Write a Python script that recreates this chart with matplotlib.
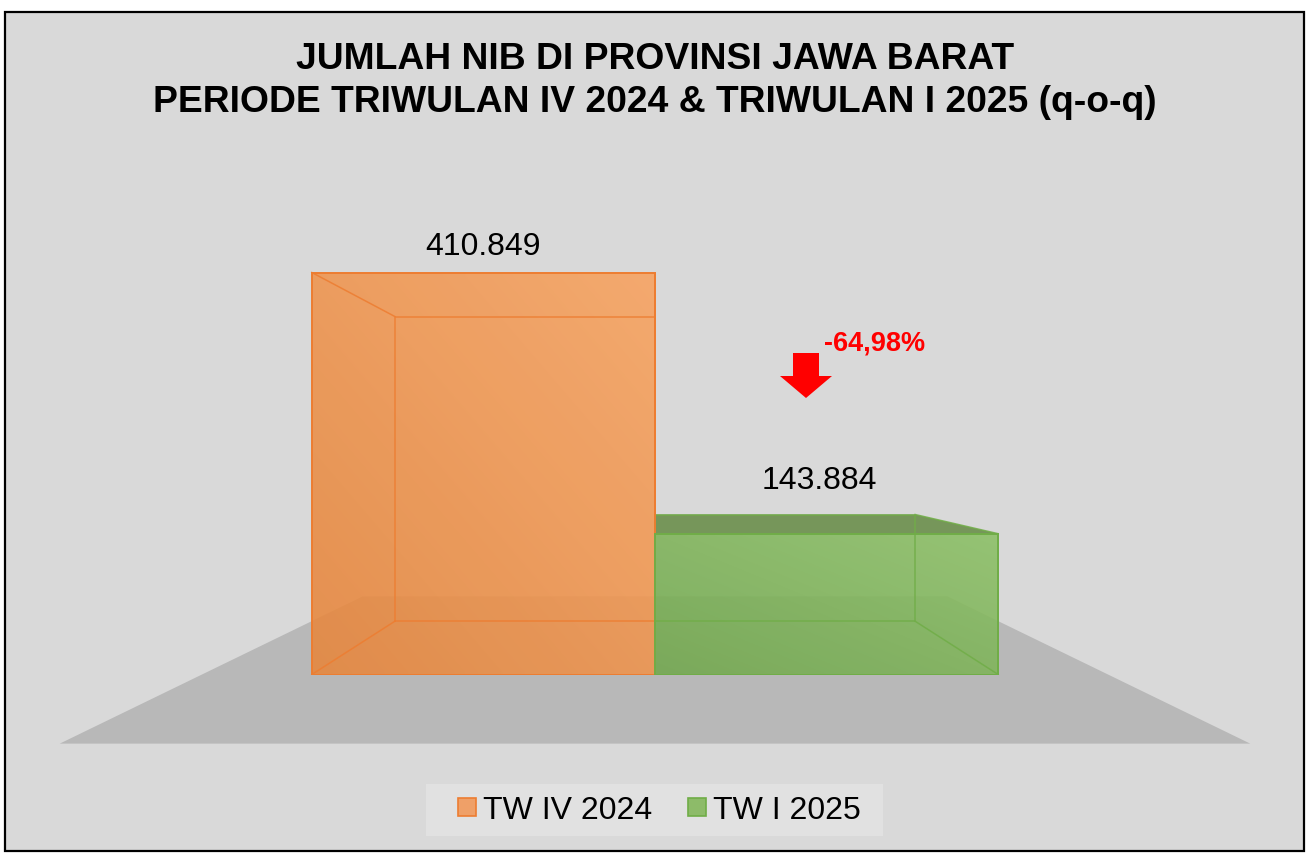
import numpy as np
import matplotlib
matplotlib.use("Agg")
import matplotlib.pyplot as plt
from matplotlib.patches import Rectangle, Polygon
from matplotlib.lines import Line2D

plt.rcParams['font.family'] = ['Liberation Sans', 'DejaVu Sans']

# data
categories = ['TW IV 2024', 'TW I 2025']
values = [410849, 143884]
value_labels = ['410.849', '143.884']
change_label = '-64,98%'
title_lines = ['JUMLAH NIB DI PROVINSI JAWA BARAT',
               'PERIODE TRIWULAN IV 2024 & TRIWULAN I 2025 (q-o-q)']

# styles
edge_cols = ['#ed7d31', '#70ad47']
face_lo = [(230, 134, 60), (114, 168, 78)]     # bottom-left of gradient
face_hi = [(248, 163, 96), (140, 192, 102)]    # top-right of gradient
legend_face = ['#efa068', '#8dbb69']
top_face_green = '#76965a'
BG = '#d9d9d9'
FLOOR = '#b8b8b8'
BACK = 0.758          # depth scale of the back face
FLOOR_DEPTH = (0.645, 1.314)

W, H = 1307, 854
fig = plt.figure(figsize=(W / 100, H / 100), dpi=100)
fig.patch.set_facecolor('white')


def fx(px):
    return px / W


def fy(py):
    return 1 - py / H


fig.patches.append(Rectangle((fx(5), fy(852)), fx(1304) - fx(5), fy(13) - fy(852),
                             transform=fig.transFigure, fc=BG, ec='black', lw=1.6,
                             zorder=-2))

ax = fig.add_axes([fx(202), fy(675.5), fx(1108) - fx(202), fy(235.2) - fy(675.5)])
ax.set_zorder(1)
ax.set_xlim(-0.82, 1.82)
ax.set_ylim(0, 450000)
ax.axis('off')

# vanishing point at the centre of the axes
vx, vv = ax.transData.inverted().transform(ax.transAxes.transform((0.5, 0.5)))


def proj(x, v, s):
    return (vx + s * (x - vx), vv + s * (v - vv))


# floor
x_lo, x_hi = ax.get_xlim()
s_b, s_f = FLOOR_DEPTH
floor = [proj(x_lo, 0, s_f), proj(x_hi, 0, s_f), proj(x_hi, 0, s_b), proj(x_lo, 0, s_b)]
ax.add_patch(Polygon(floor, closed=True, fc=FLOOR, ec='none', zorder=1, clip_on=False))

for i, v in enumerate(values):
    x0, x1 = i - 0.5, i + 0.5
    front = [(x0, 0), (x1, 0), (x1, v), (x0, v)]
    back = [proj(px, py, BACK) for px, py in front]

    # top face (only visible for the lower bar)
    if i == 1:
        ax.add_patch(Polygon([back[3], back[2], front[2], front[3]], closed=True,
                             fc=top_face_green, ec='none', zorder=2))

    # gradient front face
    n = 64
    xx, yy = np.meshgrid(np.linspace(0, 1, n), np.linspace(0, 1, n))
    t = (xx + yy) / 2
    lo = np.array(face_lo[i]) / 255
    hi = np.array(face_hi[i]) / 255
    img = lo[None, None, :] * (1 - t[..., None]) + hi[None, None, :] * t[..., None]
    ax.imshow(img, extent=(x0, x1, 0, v), origin='lower', aspect='auto',
              alpha=0.88, zorder=3, interpolation='bilinear')

    # inner (back) edges and connecting edges
    ec = edge_cols[i]
    bx = [p[0] for p in back] + [back[0][0]]
    by = [p[1] for p in back] + [back[0][1]]
    ax.plot(bx, by, color=ec, lw=1.1, alpha=0.85, zorder=4)
    for fp, bp in zip(front, back):
        ax.plot([fp[0], bp[0]], [fp[1], bp[1]], color=ec, lw=1.1, alpha=0.85, zorder=4)

    # front outline
    ax.add_patch(Rectangle((x0, 0), 1, v, fc='none', ec=ec, lw=1.4, zorder=5))

# restore limits after imshow
ax.set_xlim(x_lo, x_hi)
ax.set_ylim(0, 450000)

# value labels
label_offsets = [(0, 19), (-7, 46)]
for i, v in enumerate(values):
    ax.annotate(value_labels[i], (i, v), xytext=label_offsets[i],
                textcoords='offset pixels', ha='center', va='baseline',
                fontsize=23, color='black', zorder=6)

# change indicator arrow
arrow_px = [(793, 354), (819, 354), (819, 377), (832, 377), (806, 399), (780, 377), (793, 377)]
fig.patches.append(Polygon([(fx(a), fy(b)) for a, b in arrow_px], closed=True,
                           transform=fig.transFigure, fc='#ff0000', ec='none', zorder=3))
fig.text(fx(875), fy(351), change_label, ha='center', va='baseline',
         fontsize=19.5, fontweight='bold', color='#ff0000')

# title
fig.text(fx(655), fy(69), title_lines[0], ha='center', va='baseline',
         fontsize=26.8, fontweight='bold', color='black')
fig.text(fx(655), fy(112), title_lines[1], ha='center', va='baseline',
         fontsize=26.8, fontweight='bold', color='black')

# legend
fig.patches.append(Rectangle((fx(426), fy(837)), fx(883) - fx(426), fy(785) - fy(837),
                             transform=fig.transFigure, fc='#e1e1e1', ec='none', zorder=-1))
handles = [Line2D([], [], ls='', marker='s', markersize=13, mfc=legend_face[i],
                  mec=edge_cols[i], mew=1.2, label=categories[i])
           for i in range(len(categories))]
fig.legend(handles=handles, loc='center', bbox_to_anchor=(fx(658), fy(811)),
           ncol=2, frameon=False, fontsize=23, handlelength=0.7,
           handletextpad=0.15, columnspacing=1.05, borderpad=0)

fig.savefig('out.png', dpi=100)
